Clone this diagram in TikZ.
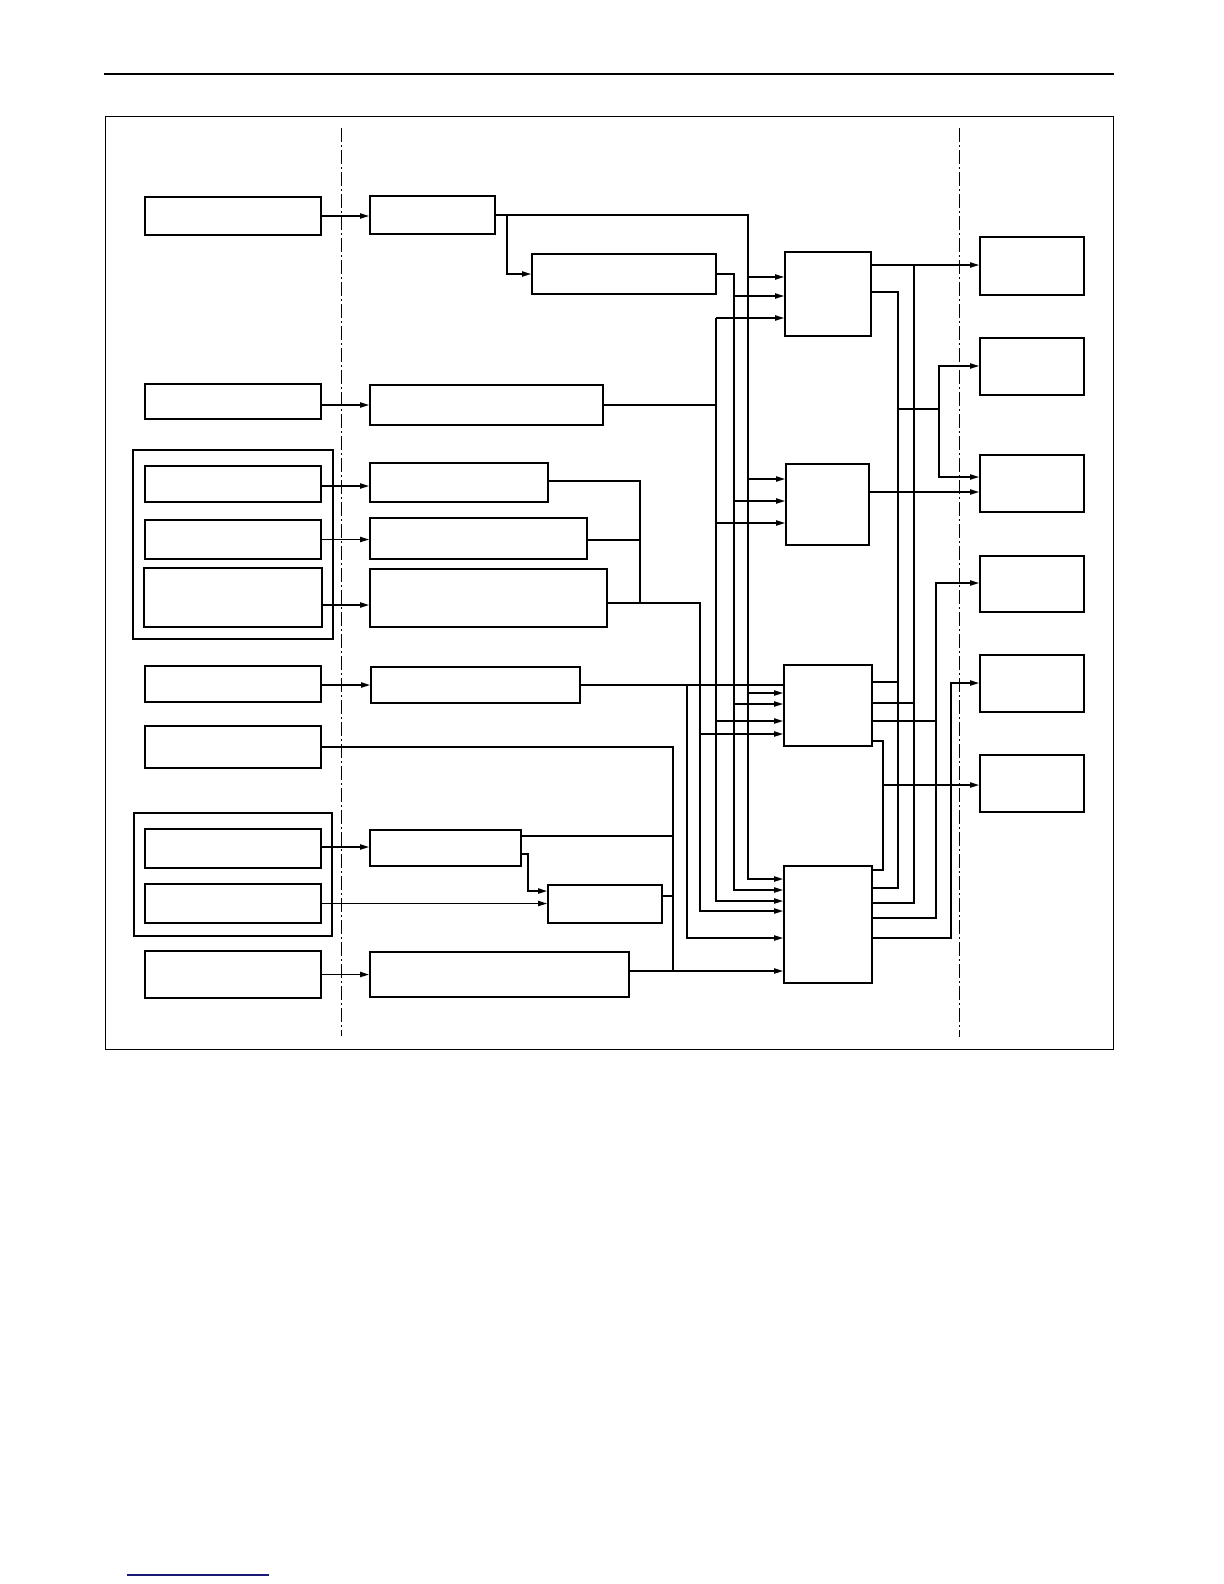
\documentclass[tikz,border=0pt]{standalone}
\usetikzlibrary{arrows.meta, calc}

\definecolor{linkblue}{RGB}{25,25,120}

\begin{document}
\begin{tikzpicture}[
    x=0.5pt, y=-0.5pt,
    blk/.style={draw, line width=0.9pt, inner sep=0pt},
    grp/.style={draw, line width=0.8pt, inner sep=0pt},
    wire/.style={line width=0.8pt},
    arr/.style={-{Triangle[length=4.5pt, width=2.6pt]}, line width=0.8pt},
    zoneline/.style={dash pattern=on 7pt off 1.5pt on 1pt off 1.5pt, line width=0.5pt}
]
    \useasboundingbox (0,0) rectangle (1224,1584);

    % page rule, frame and zone borders
    \draw[line width=1.4pt] (104,74) -- (1114,74);
    \draw[line width=0.5pt] (105,117) rectangle (1113,1049);
    \draw[zoneline] (341,128) -- (341,1036);
    \draw[zoneline] (959,128) -- (959,1037);
    \draw[linkblue, line width=0.6pt] (127,1575) -- (269,1575);

    % Left column
    \node[grp, minimum width=100pt, minimum height=94.5pt] (grpA) at (233,544.5) {};
    \node[grp, minimum width=99pt, minimum height=61.5pt] (grpB) at (233,874.5) {};
    \node[blk, minimum width=88pt, minimum height=19pt] (L1) at (233,216) {};
    \node[blk, minimum width=88pt, minimum height=17.5pt] (L2) at (233,401.5) {};
    \node[blk, minimum width=88pt, minimum height=18pt] (L3) at (233,484) {};
    \node[blk, minimum width=88pt, minimum height=19.5pt] (L4) at (233,539.5) {};
    \node[blk, minimum width=89pt, minimum height=29.5pt] (L5) at (233,597.5) {};
    \node[blk, minimum width=88pt, minimum height=18pt] (L6) at (233,684) {};
    \node[blk, minimum width=88pt, minimum height=21pt] (L7) at (233,747) {};
    \node[blk, minimum width=88pt, minimum height=19.5pt] (L8) at (233,848.5) {};
    \node[blk, minimum width=88pt, minimum height=19.5pt] (L9) at (233,903.5) {};
    \node[blk, minimum width=88pt, minimum height=23.5pt] (L10) at (233,974.5) {};

    % Middle column
    \node[blk, minimum width=62.5pt, minimum height=19pt] (M1) at (432.5,215) {};
    \node[blk, minimum width=92pt, minimum height=20pt] (M2) at (624,274) {};
    \node[blk, minimum width=116.5pt, minimum height=20pt] (M3) at (486.5,405) {};
    \node[blk, minimum width=89pt, minimum height=19.5pt] (M4) at (459,482.5) {};
    \node[blk, minimum width=108.5pt, minimum height=20.5pt] (M5) at (478.5,538.5) {};
    \node[blk, minimum width=118.5pt, minimum height=29pt] (M6) at (488.5,598) {};
    \node[blk, minimum width=104.5pt, minimum height=18pt] (M7) at (475.5,685) {};
    \node[blk, minimum width=75.5pt, minimum height=18pt] (M8) at (445.5,848) {};
    \node[blk, minimum width=57pt, minimum height=19pt] (M9) at (605,904) {};
    \node[blk, minimum width=129.5pt, minimum height=22.5pt] (M10) at (499.5,974.5) {};

    % Central units
    \node[blk, minimum width=43pt, minimum height=42pt] (C1) at (828,294) {};
    \node[blk, minimum width=41.5pt, minimum height=40.5pt] (C2) at (827.5,504.5) {};
    \node[blk, minimum width=44pt, minimum height=40.5pt] (C3) at (828,705.5) {};
    \node[blk, minimum width=44pt, minimum height=58.5pt] (C4) at (828,924.5) {};

    % Right column
    \node[blk, minimum width=52pt, minimum height=29pt] (R1) at (1032,266) {};
    \node[blk, minimum width=52pt, minimum height=28.5pt] (R2) at (1032,366.5) {};
    \node[blk, minimum width=52pt, minimum height=28.5pt] (R3) at (1032,483.5) {};
    \node[blk, minimum width=52pt, minimum height=28pt] (R4) at (1032,584) {};
    \node[blk, minimum width=52pt, minimum height=28.5pt] (R5) at (1032,683.5) {};
    \node[blk, minimum width=52pt, minimum height=28.5pt] (R6) at (1032,783.5) {};

    % bus lines
    \coordinate (v1) at (748,0);
    \coordinate (v2) at (734,0);
    \coordinate (v3) at (716,0);
    \coordinate (v4) at (700,0);
    \coordinate (v5) at (687,0);
    \coordinate (v6) at (673,0);
    \coordinate (j1) at (640,0);
    \coordinate (k1) at (898,0);
    \coordinate (k2) at (914,0);
    \coordinate (k3) at (936,0);
    \coordinate (k4) at (951,0);
    \coordinate (k5) at (939,0);
    \coordinate (k6) at (883,0);

    % Left to middle
    \draw[arr] (L1.east) -- (M1.west |- L1.east);
    \draw[arr] (L2.east |- M3.west) -- (M3.west);
    \draw[arr] (L3.east |- 0,486) -- (M4.west |- 0,486);
    \draw[arr] (L4.east) -- (M5.west |- L4.east);
    \draw[arr] (L5.east |- 0,605) -- (M6.west |- 0,605);
    \draw[arr] (L6.east |- M7.west) -- (M7.west);
    \draw[arr] (L8.east |- 0,847) -- (M8.west |- 0,847);
    \draw[arr] (L9.east) -- (M9.west |- L9.east);
    \draw[arr] (L10.east) -- (M10.west |- L10.east);
    \draw[arr] ($(M1.east)+(11,0)$) |- (M2.west);
    \draw[arr] (M8.east |- 0,854) -| (528,891) -- (M9.west |- 0,891);

    % Middle to central units
    \draw[arr] (M1.east) -| (v1 |- 0,879) -- (C4.west |- 0,879);
    \draw[arr] (v1 |- 0,277) -- (C1.west |- 0,277);
    \draw[arr] (v1 |- 0,479) -- (C2.west |- 0,479);
    \draw[arr] (v1 |- 0,693) -- (C3.west |- 0,693);

    \draw[arr] (M2.east) -| (v2 |- 0,890) -- (C4.west |- 0,890);
    \draw[arr] (v2 |- 0,296) -- (C1.west |- 0,296);
    \draw[arr] (v2 |- 0,501) -- (C2.west |- 0,501);
    \draw[arr] (v2 |- 0,704) -- (C3.west |- 0,704);

    \draw[wire] (M3.east) -- (v3 |- M3.east);
    \draw[arr] (v3 |- 0,318) -- (C1.west |- 0,318);
    \draw[arr] (C1.west -| v3) ++(0,24) |- (C4.west |- 0,901);
    \draw[arr] (v3 |- 0,523) -- (C2.west |- 0,523);
    \draw[arr] (v3 |- 0,721) -- (C3.west |- 0,721);

    \draw[wire] (M4.east |- 0,481) -| (j1 |- 0,603);
    \draw[wire] (M5.east |- 0,540) -- (j1 |- 0,540);
    \draw[arr] (M6.east |- 0,603) -| (v4 |- 0,911) -- (C4.west |- 0,911);
    \draw[arr] (v4 |- 0,734) -- (C3.west |- 0,734);

    \draw[wire] (M7.east) -- (C3.west |- M7.east);
    \draw[arr] (v5 |- M7.east) |- (C4.west |- 0,938);

    \draw[wire] (L7.east) -| (v6 |- 0,971);
    \draw[wire] (M8.east |- 0,836) -- (v6 |- 0,836);
    \draw[wire] (M9.east |- 0,896) -- (v6 |- 0,896);
    \draw[arr] (M10.east |- 0,971) -- (C4.west |- 0,971);

    % Central units to outputs
    \draw[arr] (C1.east |- 0,265) -- (R1.west |- 0,265);
    \draw[wire] (C1.east |- 0,292) -| (k1 |- 0,888) -- (C4.east |- 0,888);
    \draw[wire] (k2 |- 0,265) -- (k2 |- 0,903) -- (C4.east |- 0,903);
    \draw[arr] (k1 |- 0,409) -| (k5 |- 0,366) -- (R2.west |- 0,366);
    \draw[arr] (k5 |- 0,409) |- (R3.west |- 0,477);
    \draw[arr] (C2.east |- 0,492) -- (R3.west |- 0,492);
    \draw[wire] (C3.east |- 0,682) -- (k1 |- 0,682);
    \draw[wire] (C3.east |- 0,703) -- (k2 |- 0,703);
    \draw[arr] (C4.east |- 0,918) -| (k3 |- 0,583) -- (R4.west |- 0,583);
    \draw[wire] (C3.east |- 0,721) -- (k3 |- 0,721);
    \draw[arr] (C4.east |- 0,938) -| (k4 |- 0,683) -- (R5.west |- 0,683);
    \draw[wire] (C3.east |- 0,741) -| (k6 |- 0,870) -- (C4.east |- 0,870);
    \draw[arr] (k6 |- 0,785) -- (R6.west |- 0,785);

\end{tikzpicture}
\end{document}
